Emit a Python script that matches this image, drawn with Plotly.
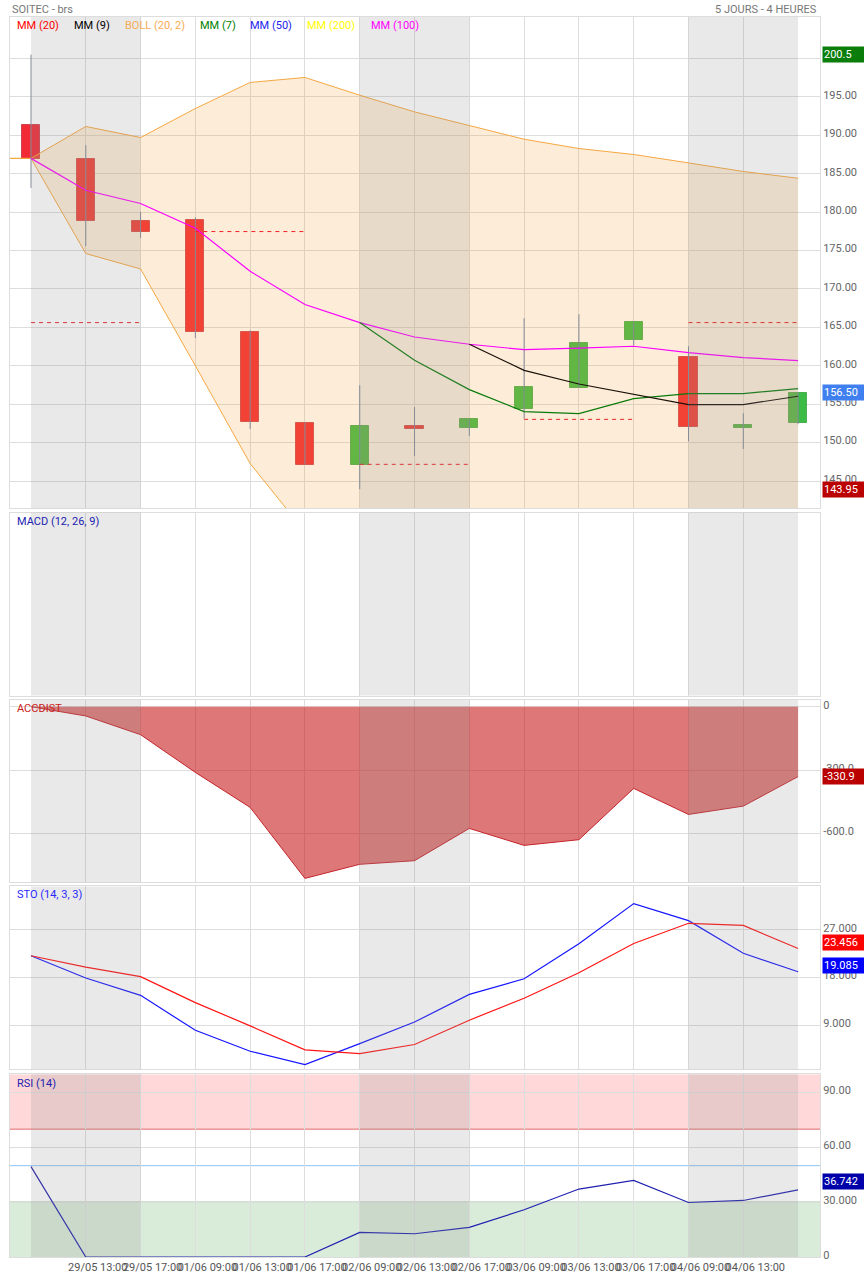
import plotly.graph_objects as go

# ---------------- data ----------------
idx = list(range(15))
tick_labels = ["29/05 13:00", "29/05 17:00", "01/06 09:00", "01/06 13:00", "01/06 17:00",
               "02/06 09:00", "02/06 13:00", "02/06 17:00", "03/06 09:00", "03/06 13:00",
               "03/06 17:00", "04/06 09:00", "04/06 13:00"]
tick_pos = list(range(1, 14))

open_ = [191.28, 186.89, 178.90, 179.04, 164.45, 152.60, 147.14, 152.12, 151.95, 154.43, 157.16, 163.41, 161.10, 151.95, 152.60]
close = [186.98, 178.90, 177.42, 164.40, 152.73, 147.14, 152.12, 151.77, 153.03, 157.20, 162.93, 165.66, 151.99, 152.34, 156.50]
high = [200.50, 188.71, 180.03, 179.30, 164.62, 152.60, 157.46, 154.64, 153.03, 166.18, 166.70, 165.66, 162.54, 153.82, 156.50]
low = [183.15, 175.60, 176.64, 163.62, 151.77, 147.14, 143.95, 148.25, 150.86, 153.13, 157.16, 162.67, 150.17, 149.17, 152.40]

mm100 = [187.0, 182.85, 181.12, 177.9, 172.3, 167.97, 165.62, 163.75, 162.8, 162.1, 162.3, 162.54, 161.72, 161.07, 160.68]
mm7 = [None, None, None, None, None, None, 165.62, 160.72, 156.9, 154.03, 153.78, 155.73, 156.38, 156.38, 157.03]
mm9 = [None, None, None, None, None, None, None, None, 162.8, 159.41, 157.63, 156.3, 154.95, 154.95, 156.03]

boll_x = list(range(-1, 15))
boll_up = [187.0, 187.0, 191.15, 189.71, 193.49, 196.88, 197.53, 195.22, 193.05, 191.23, 189.49, 188.28, 187.5, 186.41, 185.29, 184.41]
boll_lo = [187.0, 187.0, 174.61, 172.6, 160.0, 147.27, 138.4, 136.0, 134.5, 134.4, 134.7, 136.3, 137.6, 137.0, 136.9, 137.0]

# MM(20) daily dashed segments: (start idx, end idx, level)
mm20_start = [0, 3, 6, 9, 12]
mm20_end = [2, 5, 8, 11, 14]
mm20_level = [165.62, 177.47, 147.17, 153.03, 165.62]

accdist = [0, -44, -132.5, -311, -476.6, -812.6, -746, -728.8, -576, -656.4, -629.5, -386.7, -510, -470.6, -330.9]

sto_k = [22.1, 17.9, 14.65, 8.08, 4.14, 1.64, 5.58, 9.63, 14.83, 17.77, 24.34, 31.9, 28.7, 22.56, 19.085]
sto_d = [22.1, 19.97, 18.16, 13.28, 8.91, 4.41, 3.71, 5.4, 9.98, 14.1, 18.9, 24.4, 28.2, 27.8, 23.456]

rsi = [49.5, 0, 0, 0, 0, 0, 13.45, 12.74, 16.2, 25.9, 37.2, 41.9, 29.85, 30.95, 36.742]

# day shading bands (start idx, end idx)
band_start = [0, 6, 12]
band_end = [2, 8, 14]

# ---------------- styles ----------------
FONT = "Roboto"
RED = "#f22a35"
GREEN = "#3dbb47"
GRID = "#dddddd"
XR = [-0.383, 14.40]

fig = go.Figure()

# Bollinger band
fig.add_trace(go.Scatter(x=boll_x, y=boll_lo, mode="lines", line=dict(color="#f5a742", width=1),
                         xaxis="x", yaxis="y", showlegend=False, hoverinfo="skip"))
fig.add_trace(go.Scatter(x=boll_x, y=boll_up, mode="lines", line=dict(color="#f5a742", width=1),
                         fill="tonexty", fillcolor="rgba(245,165,60,0.2)",
                         xaxis="x", yaxis="y", showlegend=False, hoverinfo="skip"))

# wicks
wx, wy = [], []
for i, h, l in zip(idx, high, low):
    wx += [i, i, None]
    wy += [l, h, None]
fig.add_trace(go.Scatter(x=wx, y=wy, mode="lines", line=dict(color="#858b98", width=1),
                         xaxis="x", yaxis="y", showlegend=False, hoverinfo="skip"))

# bodies
up = [c >= o for o, c in zip(open_, close)]
fig.add_trace(go.Bar(x=idx, y=[c - o for o, c in zip(open_, close)], base=open_, width=0.33,
                     marker=dict(color=[GREEN if u else RED for u in up],
                                 line=dict(color=["#4aae52" if u else "#d04452" for u in up], width=1)),
                     xaxis="x", yaxis="y", showlegend=False, hoverinfo="skip"))

# MM(20) dashed segments
dx, dy = [], []
for s, e, v in zip(mm20_start, mm20_end, mm20_level):
    dx += [s, e, None]
    dy += [v, v, None]
fig.add_trace(go.Scatter(x=dx, y=dy, mode="lines", line=dict(color="#ee2222", width=1, dash="4px,4px"),
                         xaxis="x", yaxis="y", showlegend=False, hoverinfo="skip"))

fig.add_trace(go.Scatter(x=idx, y=mm100, mode="lines", line=dict(color="#ff00ff", width=1.2),
                         xaxis="x", yaxis="y", showlegend=False, hoverinfo="skip"))
fig.add_trace(go.Scatter(x=idx, y=mm7, mode="lines", line=dict(color="#0a7a0a", width=1.2),
                         xaxis="x", yaxis="y", showlegend=False, hoverinfo="skip"))
fig.add_trace(go.Scatter(x=idx, y=mm9, mode="lines", line=dict(color="#1a1008", width=1.2),
                         xaxis="x", yaxis="y", showlegend=False, hoverinfo="skip"))

# ACCDIST
fig.add_trace(go.Scatter(x=idx, y=accdist, mode="lines", line=dict(color="#c4262c", width=1),
                         fill="tozeroy", fillcolor="rgba(200,30,30,0.6)",
                         xaxis="x3", yaxis="y3", showlegend=False, hoverinfo="skip"))

# STO
fig.add_trace(go.Scatter(x=idx, y=sto_k, mode="lines", line=dict(color="#1515ff", width=1.2),
                         xaxis="x4", yaxis="y4", showlegend=False, hoverinfo="skip"))
fig.add_trace(go.Scatter(x=idx, y=sto_d, mode="lines", line=dict(color="#ff1515", width=1.2),
                         xaxis="x4", yaxis="y4", showlegend=False, hoverinfo="skip"))

# RSI
fig.add_trace(go.Scatter(x=idx, y=rsi, mode="lines", line=dict(color="#2020b0", width=1.2),
                         xaxis="x5", yaxis="y5", showlegend=False, hoverinfo="skip"))

# ---------------- layout ----------------
domains = {1: [0.6038, 1.0], 2: [0.4528, 0.6004], 3: [0.3022, 0.4492], 4: [0.1514, 0.2988], 5: [0.0, 0.1473]}
yranges = {1: [141.45, 205.4], 2: [0, 1], 3: [-831, 31.7], 4: [0.75, 35.12], 5: [0, 100]}
ytickvals = {1: [145, 150, 155, 160, 165, 170, 175, 180, 185, 190, 195, 200], 2: [],
             3: [0, -300, -600], 4: [9, 18, 27], 5: [0, 30, 60, 90]}
yticktext = {1: ["%.2f" % v for v in ytickvals[1]], 2: [],
             3: ["0", "-300.0", "-600.0"], 4: ["9.000", "18.000", "27.000"], 5: ["0", "30.000", "60.00", "90.00"]}

layout = dict(width=864, height=1278, margin=dict(l=10, r=44, t=17, b=21, autoexpand=False),
              paper_bgcolor="white", plot_bgcolor="white", showlegend=False,
              font=dict(family=FONT, size=11, color="#666"), bargap=0)
for n in range(1, 6):
    s = "" if n == 1 else str(n)
    xa = dict(range=XR, tickvals=tick_pos, showgrid=True, gridcolor=GRID, gridwidth=1,
              showline=True, mirror=True, linecolor=GRID, zeroline=False, automargin=False,
              showticklabels=False, anchor="y" + s, fixedrange=True, ticks="")
    if n == 5:
        xa.update(showticklabels=True, ticktext=tick_labels, tickangle=0,
                  tickfont=dict(family=FONT, size=11, color="#555"), ticklabelshift=12)
    ya = dict(domain=domains[n], range=yranges[n], side="right", anchor="x" + s,
              tickvals=ytickvals[n], ticktext=yticktext[n], showgrid=(n != 2), gridcolor=GRID,
              showline=True, mirror=True, linecolor=GRID, zeroline=False, ticks="", automargin=False,
              tickfont=dict(family=FONT, size=11, color="#666"), fixedrange=True,
              ticklabelshift=-2, showticklabels=(n != 2))
    layout["xaxis" + s] = xa
    layout["yaxis" + s] = ya
fig.update_layout(**layout)

# shapes: RSI zones, lines, day shading
shapes = []
shapes.append(dict(type="rect", xref="x5 domain", yref="y5", x0=0, x1=1, y0=70, y1=100,
                   fillcolor="rgba(255,0,0,0.15)", line=dict(width=0), layer="below"))
shapes.append(dict(type="rect", xref="x5 domain", yref="y5", x0=0, x1=1, y0=0, y1=30,
                   fillcolor="rgba(0,128,0,0.15)", line=dict(width=0), layer="below"))
for lvl, col in [(70, "#e06a6a"), (50, "#8ec4f2"), (30, "#5f9f5f")]:
    shapes.append(dict(type="line", xref="x5 domain", yref="y5", x0=0, x1=1, y0=lvl, y1=lvl,
                       line=dict(color=col, width=1), layer="below"))
for n in range(1, 6):
    s = "" if n == 1 else str(n)
    for a, b in zip(band_start, band_end):
        shapes.append(dict(type="rect", xref="x" + s, yref="y" + s + " domain", x0=a, x1=b, y0=0, y1=1,
                           fillcolor="rgba(145,145,145,0.2)", line=dict(width=0), layer="above"))
fig.update_layout(shapes=shapes)

# annotations
ann = []
PH = 1240.0
def py(px):
    return (1257 - px) / PH
def pxx(px):
    return (px - 10) / 810.0

ann.append(dict(text="SOITEC - brs", xref="paper", yref="paper", x=0, y=py(9), xanchor="left",
                yanchor="middle", showarrow=False, font=dict(family=FONT, size=11, color="#777")))
ann.append(dict(text="5 JOURS - 4 HEURES", xref="paper", yref="paper", x=pxx(819), y=py(9),
                xanchor="right", yanchor="middle", showarrow=False,
                font=dict(family=FONT, size=11, color="#777")))
legend_items = [("MM (20)", "#ff0000", 15), ("MM (9)", "#000000", 72), ("BOLL (20, 2)", "#f7ab55", 123),
                ("MM (7)", "#008000", 198), ("MM (50)", "#2222ee", 248), ("MM (200)", "#ffff00", 305),
                ("MM (100)", "#ff00ff", 369)]
for t, c, x in legend_items:
    ann.append(dict(text=t, xref="paper", yref="paper", x=pxx(x), y=py(25), xanchor="left",
                    yanchor="middle", showarrow=False, font=dict(family=FONT, size=11, color=c)))
for t, c, y in [("MACD (12, 26, 9)", "#2222b0", 521), ("ACCDIST", "#cc2222", 708),
                ("STO (14, 3, 3)", "#2a2aff", 895), ("RSI (14)", "#2222b0", 1083)]:
    ann.append(dict(text=t, xref="paper", yref="paper", x=pxx(15), y=py(y), xanchor="left",
                    yanchor="middle", showarrow=False, font=dict(family=FONT, size=11, color=c)))

boxes = [("200.5", "y", max(high), "#0a7d0a", 0), ("156.50", "y", close[-1], "#3f7ff0", 0),
         ("143.95", "y", min(low), "#bb0000", 0), ("-330.9", "y3", accdist[-1], "#bb0000", 0),
         ("23.456", "y4", sto_d[-1], "#ff0000", 6), ("19.085", "y4", sto_k[-1], "#0000ff", 6),
         ("36.742", "y5", rsi[-1], "#0000aa", 8)]
for t, yr, v, c, sh in boxes:
    ann.append(dict(text=t, xref="paper", yref=yr, x=1, y=v, xanchor="left", yanchor="middle",
                    xshift=2, yshift=sh, showarrow=False, bgcolor=c, width=40, align="left",
                    borderpad=1, font=dict(family=FONT, size=11, color="white")))
fig.update_layout(annotations=ann)

fig.write_html("out.html")
